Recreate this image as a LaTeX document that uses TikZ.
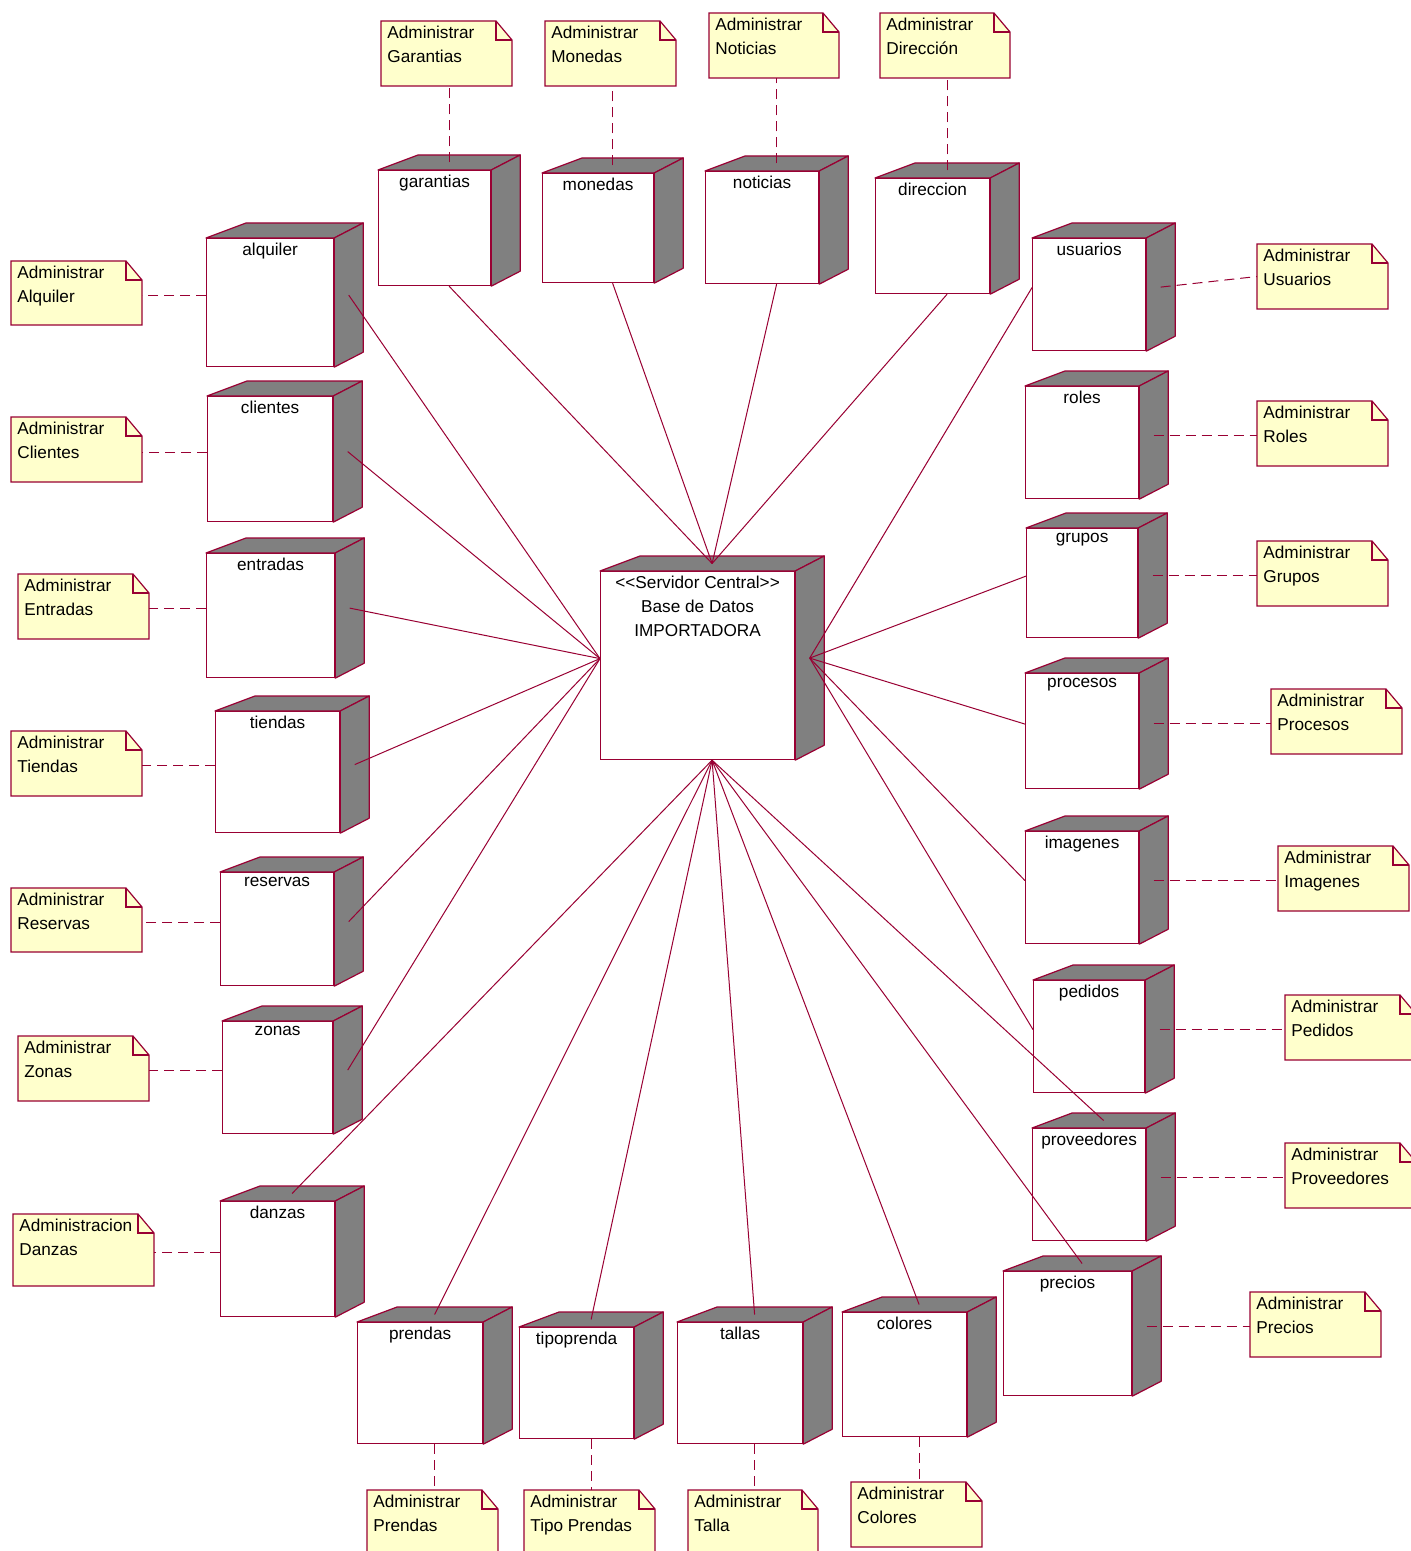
\documentclass[tikz,border=0pt]{standalone}
\usepackage{fontspec}
\setmainfont{Liberation Sans}
\usepackage{tikz}
\usetikzlibrary{calc}

\definecolor{rosered}{RGB}{153,0,51}
\definecolor{rosenote}{RGB}{255,255,204}
\definecolor{roseside}{RGB}{128,128,128}

\tikzset{
  devfront/.style={draw=rosered, fill=white, line width=0.6pt, inner sep=0pt, anchor=north west},
  devface/.style={draw=rosered, fill=roseside, line width=0.6pt, line join=round},
  devlabel/.style={inner sep=0pt, anchor=north, align=center, font=\fontsize{8.6}{12}\selectfont},
  notebody/.style={draw=rosered, fill=rosenote, line width=0.6pt},
  notetext/.style={inner sep=0pt, anchor=north west, align=left, font=\fontsize{8.6}{12}\selectfont},
  link/.style={draw=rosered, line width=0.5pt},
  notelink/.style={draw=rosered, line width=0.5pt, dash pattern=on 5pt off 3pt},
}

% device box: name, x1, y1, x2, y2, label
\newcommand\devnode[6]{%
  \node[devfront, minimum width={(#4-#2)*0.5pt}, minimum height={(#5-#3)*0.5pt}] (#1) at (#2,#3) {};
  \filldraw[devface] (#1.north west) -- ++(40,-15) -- ($(#1.north east)+(29,-15)$) -- (#1.north east) -- cycle;
  \filldraw[devface] (#1.north east) -- ++(29,-15) -- ($(#1.south east)+(29,-15)$) -- (#1.south east) -- cycle;
  \node[devlabel] (#1-lbl) at ($(#1.north)+(0,5)$) {#6};
  \coordinate (#1-side) at ($(#1.east)+(14.5,-7.5)$);
  \coordinate (#1-west) at ($(#1.west)+(0,-7)$);
  \coordinate (#1-top) at ($(#1.north)+(14.5,-7.5)$);
  \coordinate (#1-bot) at ($(#1.south)+(14.5,0)$);
}

% note: name, x1, y1, x2, y2, text
\newcommand\admnote[6]{%
  \filldraw[notebody] (#2,#3) -- (#4-16,#3) -- (#4,#3+19) -- (#4,#5) -- (#2,#5) -- cycle;
  \draw[notebody, fill=none] (#4-16,#3) -- (#4-16,#3+19) -- (#4,#3+19);
  \node[notetext] (#1) at (#2+6,#3+5) {#6};
  \coordinate (#1-top) at ({(#2+#4)/2},#3);
  \coordinate (#1-bot) at ({(#2+#4)/2},#5);
  \coordinate (#1-lft) at (#2,{(#3+#5)/2});
  \coordinate (#1-rgt) at (#4,{(#3+#5)/2});
}

\begin{document}
\begin{tikzpicture}[x=0.5pt, y=-0.5pt]
  \useasboundingbox (0,0) rectangle (1411,1551);
  \fill[white] (0,0) rectangle (1411,1551);

  % central server
  \devnode{srv}{600}{571}{794}{759}{<\kern0pt<Servidor Central>\kern0pt>\\Base de Datos\\IMPORTADORA}

  % top row
  \devnode{garantias}{378}{170}{490}{285}{garantias}
  \devnode{monedas}{542}{173}{653}{282}{monedas}
  \devnode{noticias}{705}{171}{818}{283}{noticias}
  \devnode{direccion}{875}{178}{989}{293}{direccion}

  % left column
  \devnode{alquiler}{206}{238}{333}{366}{alquiler}
  \devnode{clientes}{207}{396}{332}{521}{clientes}
  \devnode{entradas}{206}{553}{334}{677}{entradas}
  \devnode{tiendas}{215}{711}{339}{832}{tiendas}
  \devnode{reservas}{220}{872}{333}{985}{reservas}
  \devnode{zonas}{222}{1021}{332}{1133}{zonas}
  \devnode{danzas}{220}{1201}{334}{1316}{danzas}

  % bottom row
  \devnode{prendas}{357}{1322}{482}{1443}{prendas}
  \devnode{tipoprenda}{519}{1327}{633}{1438}{tipoprenda}
  \devnode{tallas}{677}{1322}{802}{1443}{tallas}
  \devnode{colores}{842}{1312}{966}{1436}{colores}
  \devnode{precios}{1003}{1271}{1131}{1395}{precios}

  % right column
  \devnode{usuarios}{1032}{238}{1145}{350}{usuarios}
  \devnode{roles}{1025}{386}{1138}{498}{roles}
  \devnode{grupos}{1026}{528}{1137}{637}{grupos}
  \devnode{procesos}{1025}{673}{1138}{788}{procesos}
  \devnode{imagenes}{1025}{831}{1138}{943}{imagenes}
  \devnode{pedidos}{1033}{980}{1144}{1092}{pedidos}
  \devnode{proveedores}{1032}{1128}{1145}{1240}{proveedores}

  % notes
  \admnote{adm-garantias}{381}{21}{512}{86}{Administrar\\Garantias}
  \admnote{adm-monedas}{545}{21}{676}{86}{Administrar\\Monedas}
  \admnote{adm-noticias}{709}{13}{839}{78}{Administrar\\Noticias}
  \admnote{adm-direccion}{880}{13}{1010}{78}{Administrar\\Dirección}
  \admnote{adm-alquiler}{11}{261}{142}{325}{Administrar\\Alquiler}
  \admnote{adm-clientes}{11}{417}{142}{482}{Administrar\\Clientes}
  \admnote{adm-entradas}{18}{574}{149}{639}{Administrar\\Entradas}
  \admnote{adm-tiendas}{11}{731}{142}{796}{Administrar\\Tiendas}
  \admnote{adm-reservas}{11}{888}{142}{952}{Administrar\\Reservas}
  \admnote{adm-zonas}{18}{1036}{149}{1101}{Administrar\\Zonas}
  \admnote{adm-danzas}{13}{1214}{154}{1286}{Administracion\\Danzas}
  \admnote{adm-usuarios}{1257}{244}{1388}{309}{Administrar\\Usuarios}
  \admnote{adm-roles}{1257}{401}{1388}{466}{Administrar\\Roles}
  \admnote{adm-grupos}{1257}{541}{1388}{606}{Administrar\\Grupos}
  \admnote{adm-procesos}{1271}{689}{1402}{754}{Administrar\\Procesos}
  \admnote{adm-imagenes}{1278}{846}{1409}{911}{Administrar\\Imagenes}
  \admnote{adm-pedidos}{1285}{995}{1416}{1060}{Administrar\\Pedidos}
  \admnote{adm-proveedores}{1285}{1143}{1416}{1208}{Administrar\\Proveedores}
  \admnote{adm-precios}{1250}{1292}{1381}{1357}{Administrar\\Precios}
  \admnote{adm-prendas}{367}{1490}{498}{1555}{Administrar\\Prendas}
  \admnote{adm-tipoprenda}{524}{1490}{655}{1555}{Administrar\\Tipo Prendas}
  \admnote{adm-tallas}{688}{1490}{818}{1555}{Administrar\\Talla}
  \admnote{adm-colores}{851}{1482}{982}{1547}{Administrar\\Colores}

  % links to the server
  \foreach \d in {garantias,monedas,noticias,direccion}
    \draw[link] (\d-bot) -- (srv-top);
  \foreach \d in {alquiler,clientes,entradas,tiendas,reservas,zonas}
    \draw[link] (\d-side) -- (srv-west);
  \foreach \d in {danzas,prendas,tipoprenda,tallas,colores,precios,proveedores}
    \draw[link] (\d-top) -- (srv-bot);
  \foreach \d in {usuarios,grupos,procesos,imagenes,pedidos}
    \draw[link] (\d-west) -- (srv-side);

  % note anchors
  \foreach \d in {garantias,monedas,noticias,direccion}
    \draw[notelink] (\d-top) -- (\d-top |- adm-\d-bot);
  \foreach \d in {alquiler,clientes,entradas,tiendas,reservas,zonas,danzas}
    \draw[notelink] (\d-west) -- (\d-west -| adm-\d-rgt);
  \draw[notelink] (usuarios-side) -- (adm-usuarios-lft);
  \foreach \d in {roles,grupos,procesos,imagenes,pedidos,proveedores,precios}
    \draw[notelink] (\d-side) -- (\d-side -| adm-\d-lft);
  \foreach \d in {prendas,tipoprenda,tallas,colores}
    \draw[notelink] (\d-bot) -- (\d-bot |- adm-\d-top);
\end{tikzpicture}
\end{document}
